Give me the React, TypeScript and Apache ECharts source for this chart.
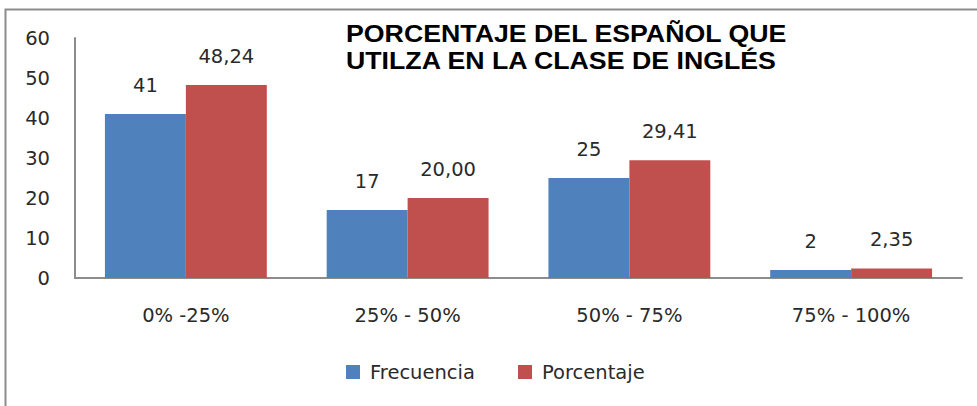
import React, { useEffect, useRef } from "react";
import * as echarts from "echarts";

const categories = ["0% -25%", "25% - 50%", "50% - 75%", "75% - 100%"];
const frecuencia = [41, 17, 25, 2];
const porcentaje = [48.24, 20.0, 29.41, 2.35];
const yTicks = { min: 0, max: 60, interval: 10 };
const titleText = "PORCENTAJE DEL ESPAÑOL QUE\nUTILZA EN LA CLASE DE INGLÉS";

const FONT = "DejaVu Sans";
const TXT = "#2a2a2a";
const FS = 19.5;

const legendBase = {
  top: 362,
  itemWidth: 14,
  itemHeight: 14,
  icon: "rect",
  padding: 0,
  textStyle: {
    fontFamily: FONT,
    fontSize: FS,
    color: TXT,
    padding: [0, 0, 0, 5],
  },
};

export default function App() {
  const ref = useRef<HTMLDivElement>(null);
  useEffect(() => {
    if (!ref.current) return;
    const chart = echarts.init(ref.current, null, { renderer: "svg" });
    chart.setOption({
      animation: false,
      backgroundColor: "#ffffff",
      graphic: [
        {
          type: "rect",
          shape: { x: 5.5, y: 9.5, width: 1100, height: 600 },
          style: { fill: "none", stroke: "#8c8c8c", lineWidth: 2 },
          silent: true,
        },
        {
          type: "text",
          x: 346,
          y: 20,
          scaleX: 1.162,
          silent: true,
          style: {
            text: titleText,
            fontFamily: "Liberation Sans",
            fontWeight: "bold",
            fontSize: 23,
            lineHeight: 27,
            fill: "#000000",
            verticalAlign: "top",
          },
        },
      ],
      legend: [
        { ...legendBase, left: 346, data: ["Frecuencia"] },
        { ...legendBase, left: 518, data: ["Porcentaje"] },
      ],
      grid: { left: 75, right: 15, top: 38, bottom: 128 },
      xAxis: {
        type: "category",
        data: categories,
        axisLine: { lineStyle: { color: "#8c8c8c", width: 2 } },
        axisTick: { show: false },
        axisLabel: { fontFamily: FONT, fontSize: FS, color: TXT, margin: 27 },
      },
      yAxis: {
        type: "value",
        min: yTicks.min,
        max: yTicks.max,
        interval: yTicks.interval,
        splitLine: { show: false },
        axisLine: { show: true, lineStyle: { color: "#8c8c8c", width: 2 } },
        axisTick: { show: false },
        axisLabel: { fontFamily: FONT, fontSize: FS, color: TXT, margin: 25 },
      },
      series: [
        {
          name: "Frecuencia",
          type: "bar",
          data: frecuencia,
          barGap: "0%",
          barCategoryGap: "27%",
          itemStyle: { color: "#4F81BD" },
          label: {
            show: true,
            position: "top",
            distance: 19,
            fontFamily: FONT,
            fontSize: FS,
            color: TXT,
            formatter: (p: any) => String(p.value),
          },
        },
        {
          name: "Porcentaje",
          type: "bar",
          data: porcentaje,
          itemStyle: { color: "#C0504D" },
          label: {
            show: true,
            position: "top",
            distance: 19,
            fontFamily: FONT,
            fontSize: FS,
            color: TXT,
            formatter: (p: any) => Number(p.value).toFixed(2).replace(".", ","),
          },
        },
      ],
    });
    return () => chart.dispose();
  }, []);
  return (
    <div
      ref={ref}
      style={{ position: "fixed", left: 0, top: 0, width: 977, height: 406 }}
    />
  );
}
